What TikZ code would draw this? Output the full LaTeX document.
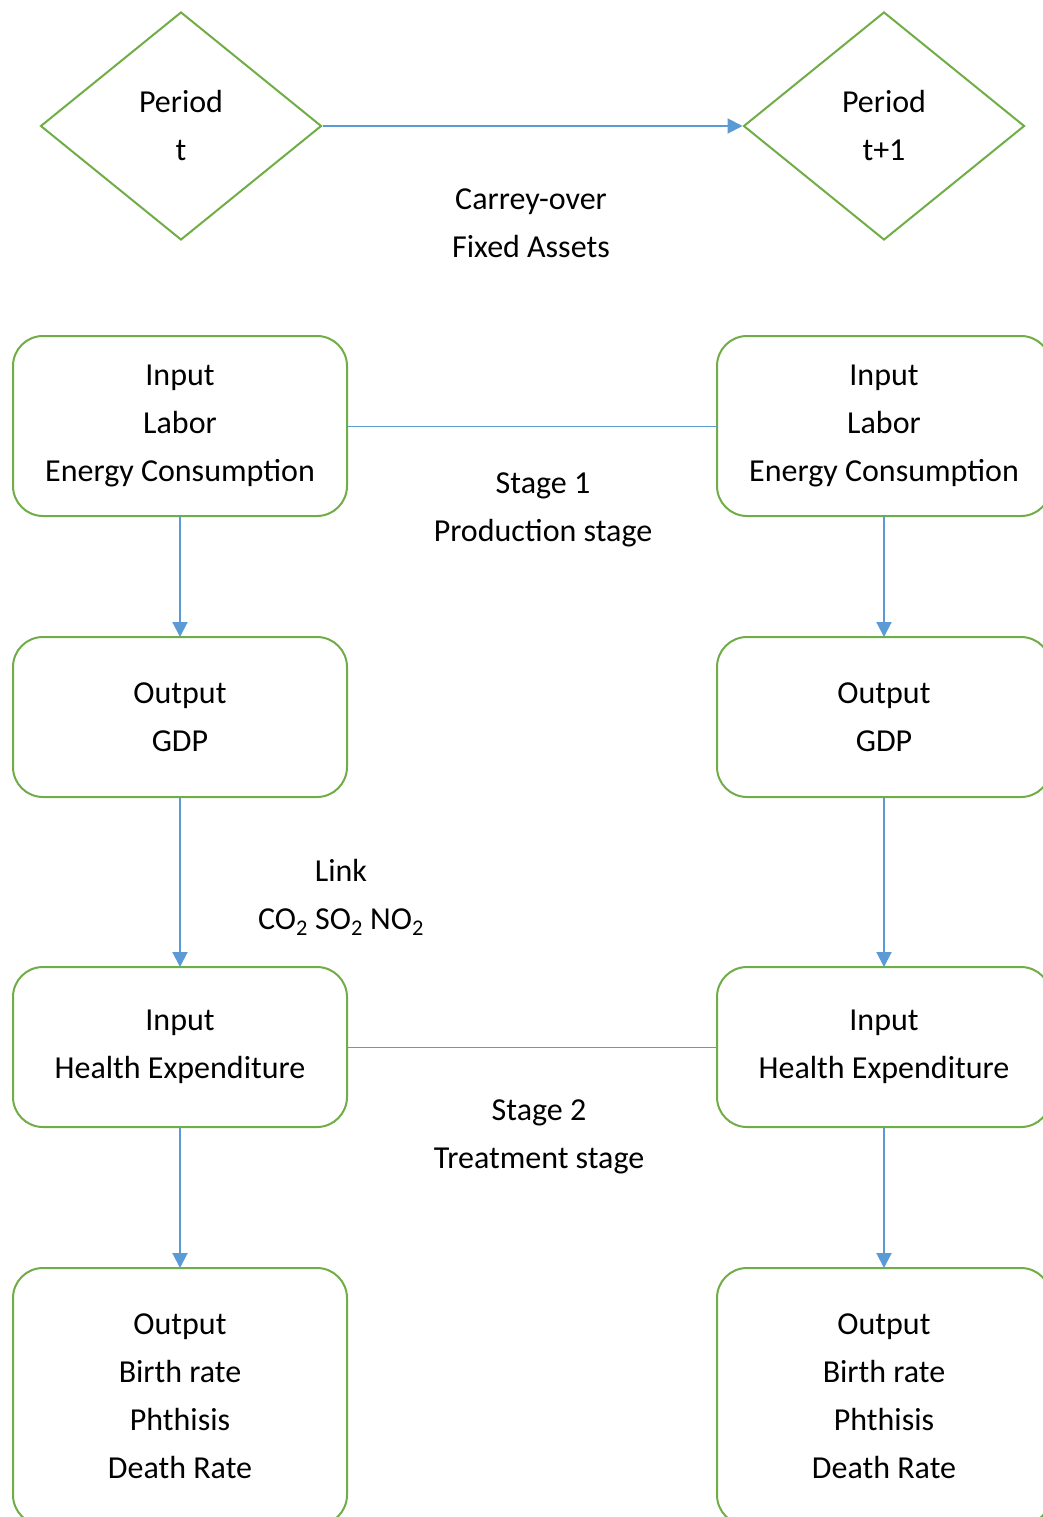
\documentclass[tikz,border=0pt]{standalone}
\usepackage{fontspec}
\setmainfont{Carlito}
\usetikzlibrary{arrows.meta,shapes.geometric,positioning}
\definecolor{boxgreen}{HTML}{70AD47}
\definecolor{arrowblue}{HTML}{5B9BD5}

\begin{document}
\begin{tikzpicture}[x=1pt,y=-1pt]

  \tikzset{every node/.style={font=\fontsize{32}{48}\selectfont, align=center}}

  \tikzset{
    period/.style={diamond, draw=boxgreen, line width=2pt, inner sep=0pt,
      minimum width=281pt, minimum height=228pt},
    stagebox/.style={rectangle, rounded corners=30pt, draw=boxgreen,
      line width=2pt, outer sep=0pt, minimum width=334pt},
    myptr/.style={draw=arrowblue, line width=2pt,
      -{Triangle[length=15pt,width=15pt]}},
    myline/.style={draw=arrowblue, line width=1pt}
  }

  \useasboundingbox (0,0) rectangle (1043,1517);
  \clip (0,0) rectangle (1043,1517);

  % Periods
  \node[period] (Period t) at (181,126) {Period\\t};
  \node[period, right=420pt of Period t] (Period t1) {Period\\t+1};
  \draw[myptr] (Period t.east) -- (Period t1.west);
  \node (carry over) at (531,223) {Carrey-over\\Fixed Assets};

  % Column for period t
  \node[stagebox, minimum height=180pt] (Input A) at (180,426)
    {Input\\Labor\\Energy Consumption};
  \node[stagebox, minimum height=160pt, below=121pt of Input A] (Output A)
    {Output\\GDP};
  \node[stagebox, minimum height=160pt, below=170pt of Output A] (Health A)
    {Input\\Health Expenditure};
  \node[stagebox, minimum height=257pt, below=141pt of Health A] (Result A)
    {Output\\Birth rate\\Phthisis\\Death Rate};

  % Column for period t+1
  \node[stagebox, minimum height=180pt, right=370pt of Input A] (Input B)
    {Input\\Labor\\Energy Consumption};
  \node[stagebox, minimum height=160pt, below=121pt of Input B] (Output B)
    {Output\\GDP};
  \node[stagebox, minimum height=160pt, below=170pt of Output B] (Health B)
    {Input\\Health Expenditure};
  \node[stagebox, minimum height=257pt, below=141pt of Health B] (Result B)
    {Output\\Birth rate\\Phthisis\\Death Rate};

  % Arrows down the columns
  \draw[myptr] (Input A) -- (Output A);
  \draw[myptr] (Output A) -- (Health A);
  \draw[myptr] (Health A) -- (Result A);
  \draw[myptr] (Input B) -- (Output B);
  \draw[myptr] (Output B) -- (Health B);
  \draw[myptr] (Health B) -- (Result B);

  % Stages
  \draw[myline] (Input A) -- (Input B);
  \node (stage one) at (543,510) {Stage 1\\Production stage};
  \draw[myline] (Health A) -- (Health B);
  \node (stage two) at (539,1137) {Stage 2\\Treatment stage};

  % Link
  \node (link) at (341,897)
    {Link\\CO\textsubscript{2} SO\textsubscript{2} NO\textsubscript{2}};

\end{tikzpicture}
\end{document}
